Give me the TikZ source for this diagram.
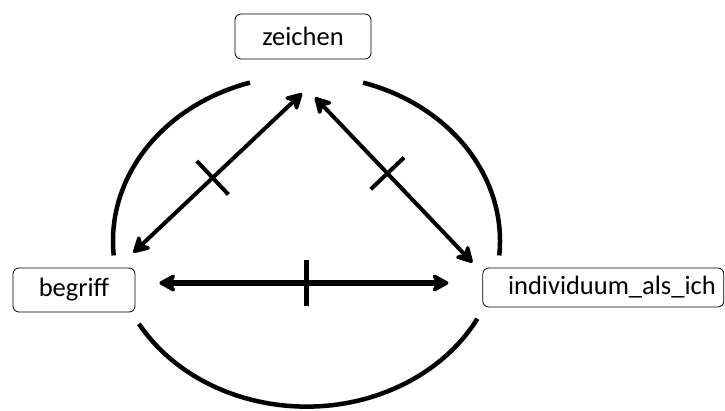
\documentclass[tikz,border=0pt]{standalone}
\usepackage{fontspec}
\setmainfont{Carlito}
\usepackage{tikz}
\usetikzlibrary{arrows.meta, positioning, calc}

\begin{document}
\begin{tikzpicture}[
        x=1pt, y=1pt,
        concept/.style={draw, rounded corners=6pt, line width=0.8pt, inner sep=0pt, font=\fontsize{26.5}{30}\selectfont},
        link/.style={{Stealth[length=20pt, width=22pt, inset=6pt, round]}-{Stealth[length=20pt, width=22pt, inset=6pt, round]}, line width=4pt},
        bar/.style={fill, inner sep=0pt, minimum width=4pt, minimum height=46pt},
        ring/.style={line width=4.5pt}
    ]
    \useasboundingbox (0,0) rectangle (725,410);

    % --- Concepts ---
    \node[concept, minimum width=136pt, minimum height=45pt] (zeichen) at (303,373.5) {zeichen};
    \node[concept, minimum width=122pt, minimum height=44pt] (begriff) at (74,120) {begriff};
    \node[concept, inner xsep=8pt, text width=225pt, align=right, minimum height=39pt, right=347pt of begriff.north east, anchor=north west] (ich) {individuum\_als\_ich};

    % --- Relations ---
    \coordinate (z_b) at ($(zeichen.south)+(-1,-34)$);
    \coordinate (b_z) at ($(begriff.north east)+(-2,15)$);
    \coordinate (z_i) at ($(zeichen.south)+(12,-38)$);
    \coordinate (i_z) at ($(ich.north west)+(-10,5)$);
    \coordinate (b_i) at ($(begriff.east)+(24,7)$);
    \coordinate (i_b) at ($(b_i -| ich.west)+(-34,0)$);

    \draw[link] (z_b) -- node[bar, sloped, pos=0.53] (t_zb) {} (b_z);
    \draw[link] (z_i) -- node[bar, sloped, pos=0.46] (t_zi) {} (i_z);
    \draw[link, line width=5.5pt] (b_i) -- node[bar, sloped, pos=0.51, minimum width=5pt] (t_bi) {} (i_b);

    % --- Broken ring ---
    \coordinate (mitte) at (306.5,169);
    \draw[ring] ([shift={(107:193.5pt and 165.6pt)}]mitte) arc[start angle=107, end angle=185, x radius=193.5pt, y radius=165.6pt];
    \draw[ring] ([shift={(73:193.5pt and 165.6pt)}]mitte) arc[start angle=73, end angle=-5, x radius=193.5pt, y radius=165.6pt];
    \draw[ring] ([shift={(210:193.5pt and 165.6pt)}]mitte) arc[start angle=210, end angle=332, x radius=193.5pt, y radius=165.6pt];

\end{tikzpicture}
\end{document}
